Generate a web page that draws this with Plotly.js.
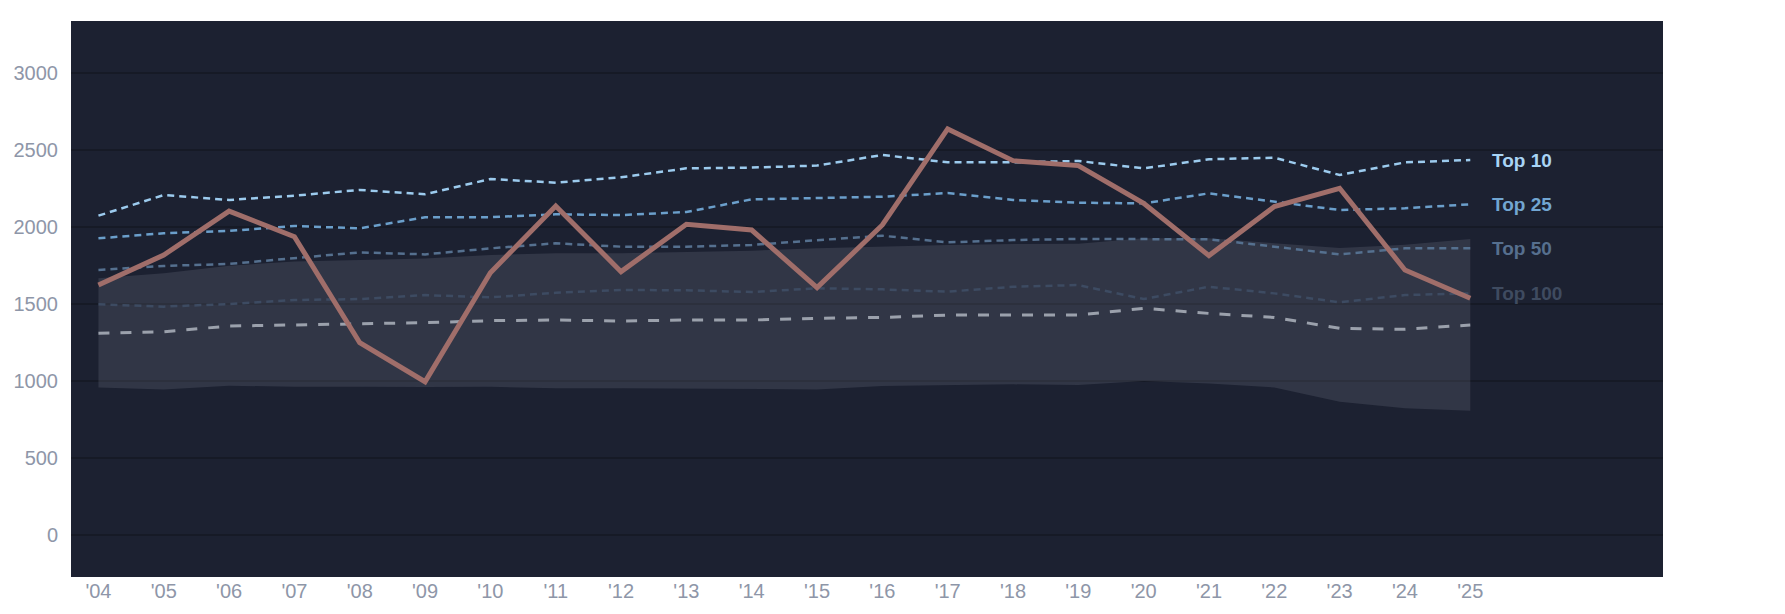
<!DOCTYPE html>
<html>
<head>
<meta charset="utf-8">
<script src="https://cdn.plot.ly/plotly-3.0.1.min.js"></script>
<style>
  html, body { margin: 0; padding: 0; background: #ffffff; }
  #chart { width: 1785px; height: 614px; }
</style>
</head>
<body>
<div id="chart"></div>
<script>
const YEARS = [2004, 2005, 2006, 2007, 2008, 2009, 2010, 2011, 2012, 2013, 2014,
  2015, 2016, 2017, 2018, 2019, 2020, 2021, 2022, 2023, 2024, 2025];
const YEAR_LABELS = ["'04", "'05", "'06", "'07", "'08", "'09", "'10", "'11", "'12", "'13", "'14",
  "'15", "'16", "'17", "'18", "'19", "'20", "'21", "'22", "'23", "'24", "'25"];

const TOP_10 = [2074, 2208, 2176, 2204, 2241, 2213, 2312, 2288, 2323, 2381, 2386,
  2399, 2468, 2420, 2420, 2429, 2381, 2440, 2450, 2338, 2420, 2435];
const TOP_25 = [1927, 1960, 1975, 2007, 1992, 2064, 2064, 2083, 2078, 2098, 2180,
  2187, 2197, 2221, 2176, 2158, 2154, 2219, 2165, 2111, 2122, 2148];
const TOP_50 = [1722, 1748, 1761, 1797, 1836, 1823, 1862, 1895, 1873, 1873, 1884,
  1915, 1944, 1901, 1916, 1923, 1923, 1921, 1873, 1823, 1862, 1862];
const TOP_100 = [1499, 1484, 1501, 1527, 1533, 1559, 1544, 1574, 1592, 1590, 1579,
  1603, 1596, 1581, 1613, 1624, 1533, 1613, 1570, 1512, 1559, 1570];
const MEDIAN = [1311, 1321, 1358, 1365, 1371, 1380, 1393, 1397, 1391, 1397, 1397,
  1408, 1414, 1429, 1429, 1429, 1473, 1440, 1414, 1343, 1337, 1365];
const BAND_HIGH = [1668, 1700, 1750, 1776, 1786, 1797, 1819, 1830, 1830, 1838, 1847,
  1862, 1873, 1884, 1890, 1892, 1927, 1927, 1895, 1865, 1885, 1923];
const BAND_LOW = [960, 947, 971, 964, 965, 962, 964, 954, 955, 952, 947,
  947, 969, 975, 980, 975, 1001, 986, 960, 867, 824, 809];
const SEASON = [1624, 1819, 2104, 1938, 1250, 997, 1704, 2137, 1711, 2018, 1981,
  1607, 2014, 2637, 2431, 2399, 2154, 1815, 2133, 2252, 1722, 1538];

const TIERS = [
  { name: "Top 10", values: TOP_10, color: "#9ccbee", label: "#a9d4f5" },
  { name: "Top 25", values: TOP_25, color: "#6b9fcb", label: "#72a6d2" },
  { name: "Top 50", values: TOP_50, color: "#55708f", label: "#566f8e" },
  { name: "Top 100", values: TOP_100, color: "#3d4b62", label: "#3f4b60" },
];

const FONT = "'Liberation Sans', Arial, sans-serif";

const data = [
  {
    x: YEARS, y: BAND_LOW, type: "scatter", mode: "lines",
    line: { width: 0, color: "rgba(0,0,0,0)" }, hoverinfo: "skip",
  },
  {
    x: YEARS, y: BAND_HIGH, type: "scatter", mode: "lines", fill: "tonexty",
    fillcolor: "rgba(118,122,136,0.24)",
    line: { width: 0, color: "rgba(0,0,0,0)" }, hoverinfo: "skip",
  },
];

// tiers drawn from the faintest up
TIERS.slice().reverse().forEach((t) => {
  data.push({
    x: YEARS, y: t.values, type: "scatter", mode: "lines", name: t.name,
    line: { color: t.color, width: 2.5, dash: "7px,5px" },
  });
});

data.push({
  x: YEARS, y: MEDIAN, type: "scatter", mode: "lines", name: "Median",
  line: { color: "#9ba1ac", width: 3, dash: "11px,11px" },
});

data.push({
  x: YEARS, y: SEASON, type: "scatter", mode: "lines", name: "Season",
  line: { color: "#a06e6a", width: 5 },
});

const annotations = TIERS.map((t) => ({
  x: YEARS[YEARS.length - 1],
  y: t.values[t.values.length - 1],
  xref: "x", yref: "y",
  text: t.name,
  showarrow: false,
  xanchor: "left",
  yanchor: "middle",
  xshift: 20,
  font: { family: FONT, size: 19, color: t.label, weight: "bold" },
}));

const layout = {
  width: 1785,
  height: 614,
  paper_bgcolor: "#ffffff",
  plot_bgcolor: "#1c2131",
  showlegend: false,
  margin: { l: 71, r: 122, t: 21, b: 37 },
  font: { family: FONT, size: 20, color: "#8e96a8" },
  xaxis: {
    range: [2003.58, 2027.95],
    tickvals: YEARS,
    ticktext: YEAR_LABELS,
    showgrid: false,
    zeroline: false,
    showline: false,
    ticks: "",
    tickfont: { family: FONT, size: 20, color: "#8e96a8" },
  },
  yaxis: {
    range: [-270, 3337],
    dtick: 500,
    tick0: 0,
    showgrid: true,
    gridcolor: "#161a26",
    gridwidth: 2,
    zeroline: false,
    showline: false,
    ticks: "",
    ticklabelstandoff: 12,
    tickfont: { family: FONT, size: 20, color: "#8e96a8" },
  },
  annotations: annotations,
};

Plotly.newPlot(document.getElementById("chart"), data, layout, { displayModeBar: false, staticPlot: true });
</script>
</body>
</html>
